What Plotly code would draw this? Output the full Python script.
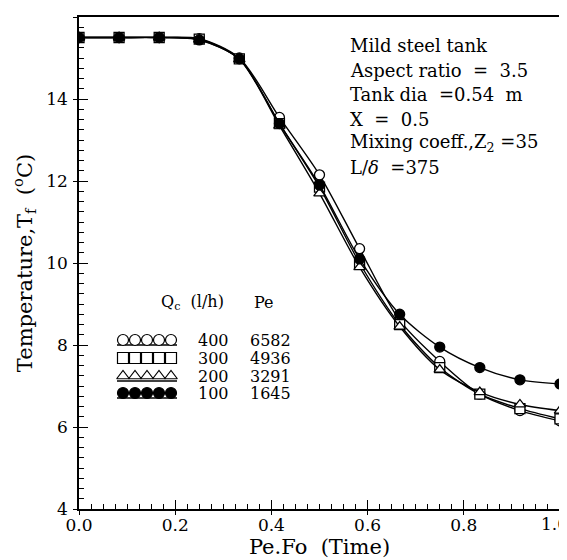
import plotly.graph_objects as go

# ---------------- data ----------------
pefo = [0.0, 0.0833, 0.1667, 0.25, 0.3333, 0.4167, 0.5, 0.5833, 0.6667, 0.75, 0.8333, 0.9167, 1.0]
t_400 = [15.5, 15.5, 15.5, 15.47, 15.0, 13.55, 12.15, 10.35, 8.6, 7.6, 6.8, 6.4, 6.15]
t_300 = [15.5, 15.5, 15.5, 15.46, 14.98, 13.4, 11.85, 10.0, 8.5, 7.45, 6.8, 6.45, 6.2]
t_200 = [15.5, 15.5, 15.5, 15.45, 14.97, 13.35, 11.7, 9.9, 8.45, 7.4, 6.85, 6.55, 6.4]
t_100 = [15.5, 15.5, 15.5, 15.44, 14.98, 13.4, 11.9, 10.1, 8.75, 7.95, 7.45, 7.15, 7.05]

qc_labels = ["400", "300", "200", "100"]
pe_labels = ["6582", "4936", "3291", "1645"]
x_ticks = [0.0, 0.2, 0.4, 0.6, 0.8, 1.0]
x_ticklabels = ["0.0", "0.2", "0.4", "0.6", "0.8", "1.0"]
y_ticks = [4, 6, 8, 10, 12, 14, 16]

S = "\u00a0"
notes = ["Mild steel tank",
         "Aspect ratio" + S * 2 + "=" + S * 2 + "3.5",
         "Tank dia" + S * 2 + "=0.54" + S * 2 + "m",
         "X" + S * 2 + "=" + S * 2 + "0.5",
         "Mixing coeff.,Z<sub>2</sub>" + S + "=35",
         "L/<i>\u03b4</i>" + S * 2 + "=375"]

FONT = "DejaVu Serif"
series = [
    (t_400, "circle", "white"),
    (t_300, "square", "white"),
    (t_200, "triangle-up", "white"),
    (t_100, "circle", "black"),
]

fig = go.Figure()
for vals, sym, fill in series:
    fig.add_trace(go.Scatter(
        x=pefo, y=vals, mode="lines+markers",
        line=dict(color="black", width=1.4, shape="spline", smoothing=0.8),
        marker=dict(symbol=sym, size=10, color=fill, line=dict(color="black", width=1.3)),
        showlegend=False, hoverinfo="skip"))

# page has an 8px body margin: figure coordinates are page coordinates minus 8
OFF = 8
W, H = 567 - OFF, 560 - OFF
L0, R0, T0, B0 = 79 - OFF, 560 - OFF, 17 - OFF, 509 - OFF

row_y = [340, 358, 376, 393]
mark_x = [123, 135, 147, 159, 171]
for i, (vals, sym, fill) in enumerate(series):
    fig.add_trace(go.Scatter(
        x=[mark_x[0] - 6, mark_x[-1] + 6], y=[row_y[i] + 5, row_y[i] + 5],
        mode="lines", line=dict(color="black", width=1.3),
        xaxis="x2", yaxis="y2", showlegend=False, hoverinfo="skip"))
    fig.add_trace(go.Scatter(
        x=mark_x, y=[row_y[i]] * 5, mode="markers",
        marker=dict(symbol=sym, size=11, color=fill, line=dict(color="black", width=1.2)),
        xaxis="x2", yaxis="y2", showlegend=False, hoverinfo="skip"))

annotations = []
def txt(x, y, s, size=16):
    annotations.append(dict(x=x, y=y, xref="x2", yref="y2", text=s,
                            showarrow=False, xanchor="left", yanchor="middle",
                            font=dict(family=FONT, size=size, color="black")))

txt(159, 302, "Q<sub>c</sub>" + S * 2 + "(l/h)")
txt(252, 302, "Pe")
for i in range(4):
    txt(196, row_y[i], qc_labels[i])
    txt(248, row_y[i], pe_labels[i])

note_y = [45, 70, 94, 119, 143, 167]
for i, t in enumerate(notes):
    txt(348, note_y[i], t, size=18)

axis_font = dict(family=FONT, size=17, color="black")
# last x tick label would be hidden by plotly at the page edge; draw it as text (clipped by the edge)
annotations.append(dict(x=x_ticks[-1], y=0, xref="x", yref="paper", text=x_ticklabels[-1],
                        showarrow=False, xanchor="center", yanchor="middle", yshift=-15,
                        xshift=-6, font=axis_font))
shown_ticktext = x_ticklabels[:-1] + [""]

common = dict(showline=True, linecolor="black", linewidth=1.5, mirror=True,
              showgrid=False, zeroline=False, tickfont=axis_font, automargin=False,
              ticks="inside", ticklen=9, tickwidth=1.2, tickcolor="black")
overlay_common = dict(ticks="outside", ticklen=5, tickwidth=1.2, tickcolor="black",
                      showticklabels=False, showgrid=False, zeroline=False,
                      showline=False, fixedrange=True, automargin=False)
fig.update_layout(
    width=W, height=H,
    margin=dict(l=L0, r=W - R0, t=T0, b=H - B0, pad=0, autoexpand=False),
    paper_bgcolor="white", plot_bgcolor="white",
    font=dict(family=FONT, color="black"),
    annotations=annotations,
    xaxis=dict(range=[0, 1], tickvals=x_ticks, ticktext=shown_ticktext,
               minor=dict(ticks="inside", ticklen=5, dtick=0.025, tickcolor="black", tickwidth=1),
               title=dict(text="Pe.Fo" + S * 2 + "(Time)", font=dict(family=FONT, size=21), standoff=2),
               **common),
    yaxis=dict(range=[4, 16], tickvals=y_ticks, ticklabelstandoff=6,
               minor=dict(ticks="inside", ticklen=5, dtick=0.25, tickcolor="black", tickwidth=1),
               title=dict(text="Temperature,T<sub>f</sub>" + S * 2 + "(<sup>o</sup>C)",
                          font=dict(family=FONT, size=21), standoff=8),
               **common),
    # short outside ticks so that major ticks cross the axis lines
    xaxis3=dict(range=[0, 1], overlaying="x", tickvals=x_ticks, **overlay_common),
    yaxis3=dict(range=[4, 16], overlaying="y", tickvals=y_ticks, **overlay_common),
    xaxis2=dict(range=[L0 + OFF, R0 + OFF], overlaying="x", visible=False, fixedrange=True),
    yaxis2=dict(range=[B0 + OFF, T0 + OFF], overlaying="y", visible=False, fixedrange=True),
)
# dummy invisible trace to activate the tick-crossing overlay axes
fig.add_trace(go.Scatter(x=[None], y=[None], xaxis="x3", yaxis="y3",
                         showlegend=False, hoverinfo="skip"))

fig.write_html("out.html")
